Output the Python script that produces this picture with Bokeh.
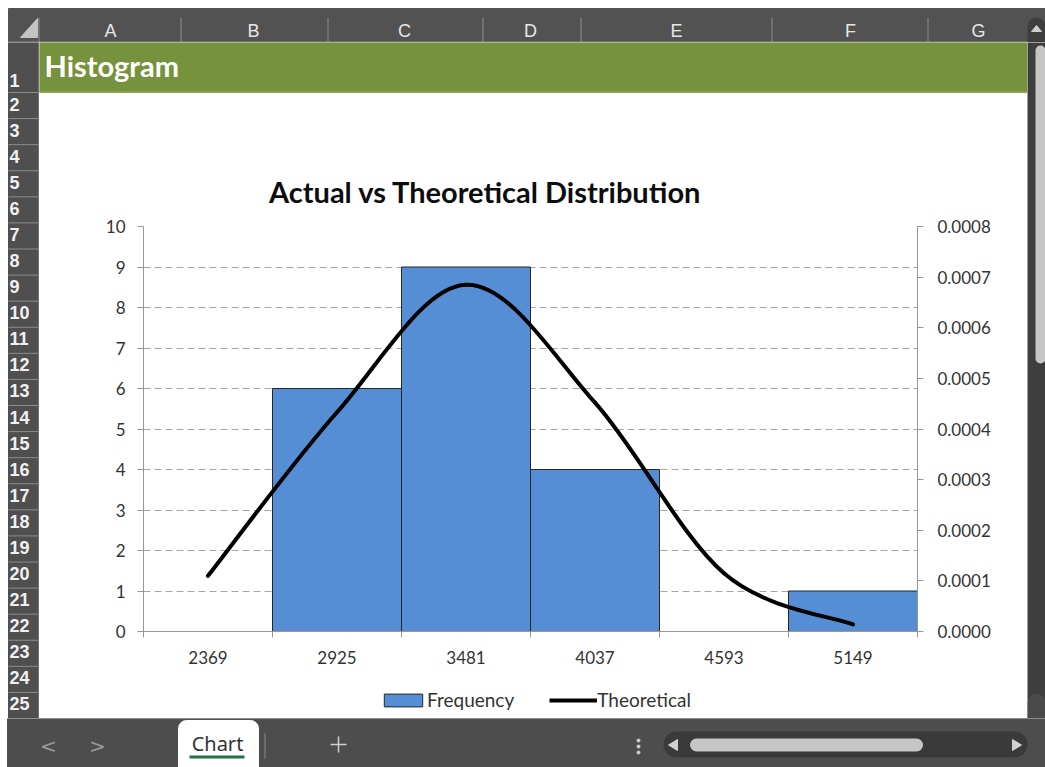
from bokeh.plotting import figure
from bokeh.models import (Range1d, LinearAxis, FixedTicker, NumeralTickFormatter,
                          ColumnDataSource, CDSView, BooleanFilter, Legend, LegendItem)
from bokeh.layouts import column, row
from bokeh.core.properties import value
from bokeh.embed import file_html
from bokeh.resources import INLINE

# ------------------------------------------------------------------ data
categories = ["2369", "2925", "3481", "4037", "4593", "5149"]
frequency = [0, 6, 9, 4, 0, 1]
theoretical = [0.000110, 0.000433, 0.000685, 0.000452, 0.000115, 0.000014]
left_ticks = [0, 1, 2, 3, 4, 5, 6, 7, 8, 9, 10]
right_ticks = [0.0, 0.0001, 0.0002, 0.0003, 0.0004, 0.0005, 0.0006, 0.0007, 0.0008]
series_names = ["Frequency", "Theoretical"]
chart_title = "Actual vs Theoretical Distribution"
sheet_title = "Histogram"
sheet_tab = "Chart"
column_letters = ["A", "B", "C", "D", "E", "F", "G"]
row_numbers = list(range(1, 26))

# ------------------------------------------------------------------ layout / style
PAGE_W = 1045
HEADER_H = 42          # includes an 8px white strip on top
BODY_H = 676
FOOT_H = 49
ROWHDR_W = 39          # includes an 8px white strip on the left
SCROLL_W = 18
CONTENT_W = PAGE_W - ROWHDR_W - SCROLL_W   # 988
TOP_H = 170
LEGEND_H = 36
CHART_H = BODY_H - TOP_H - LEGEND_H        # 470

DARK = "#525252"
ROWDARK = "#4f4f4f"
SEP = "#8c8c8c"
GREEN = "#76923C"
BAR_BLUE = "#558ED5"
BAR_LINE = "#262626"
AXIS_GRAY = "#979797"
GRID_GRAY = "#a6a6a6"
TEXT = "#333333"
SCROLL_DARK = "#3e3e3e"

col_centers = [110, 253, 404, 530, 676, 850, 978]
col_seps = [38.5, 180.5, 327.5, 482.5, 580.5, 771.5, 927.5]


def canvas(w, h, bg):
    p = figure(width=w, height=h, x_range=Range1d(0, w), y_range=Range1d(h, 0),
               min_border=0, toolbar_location=None, output_backend="svg",
               x_axis_location=None, y_axis_location=None, frame_align=False)
    p.grid.visible = False
    p.outline_line_color = None
    p.background_fill_color = bg
    p.border_fill_color = bg
    return p


# ------------------------------------------------------------------ column header strip
hdr = canvas(PAGE_W, HEADER_H, "white")
hdr.quad(left=8, right=PAGE_W, top=8, bottom=HEADER_H, color=DARK)
hdr.segment(x0=[1036], y0=[26], x1=[1036], y1=[HEADER_H + 10], line_color=SCROLL_DARK,
            line_width=18, line_cap="round")
hdr.patch(x=[1036, 1031, 1041], y=[25, 31, 31], color="#cfcfcf")
hdr.segment(x0=col_seps, y0=[17] * len(col_seps), x1=col_seps, y1=[HEADER_H] * len(col_seps),
            line_color=SEP, line_width=1)
hdr.segment(x0=[8], y0=[41.5], x1=[1027], y1=[41.5], line_color=SEP, line_width=1)
hdr.patch(x=[37, 37, 20], y=[18, 37, 37], color="#c4c4c4")
hdr.text(x=col_centers, y=[30] * len(col_centers), text=column_letters,
         text_align="center", text_baseline="middle",
         text_font=value("Liberation Sans"), text_font_size="18px", text_color="#e6e6e6")

# ------------------------------------------------------------------ row header strip
rh = canvas(ROWHDR_W, BODY_H, "white")
rh.quad(left=8, right=ROWHDR_W, top=0, bottom=BODY_H, color=ROWDARK)
row_h = (BODY_H - 50) / 24.0
row_bottoms = [50] + [50 + (j + 1) * row_h for j in range(24)]
label_y = [38] + [50 + j * row_h + 11.5 for j in range(24)]
rh.segment(x0=[8] * 25, y0=row_bottoms, x1=[38] * 25, y1=row_bottoms, line_color=SEP, line_width=1)
rh.segment(x0=[38.5], y0=[0], x1=[38.5], y1=[BODY_H], line_color="#9a9a9a", line_width=1)
rh.text(x=[9] * 25, y=label_y, text=[str(r) for r in row_numbers],
        text_align="left", text_baseline="middle",
        text_font=value("Liberation Sans"), text_font_style="bold",
        text_font_size="18px", text_color="#f0f0f0")

# ------------------------------------------------------------------ green bar + chart title
top = canvas(CONTENT_W, TOP_H, "white")
top.quad(left=0, right=CONTENT_W, top=0, bottom=50, color=GREEN)
top.segment(x0=[0], y0=[49.5], x1=[CONTENT_W], y1=[49.5], line_color="#9bb56a", line_width=1)
top.text(x=[5], y=[23], text=[sheet_title], text_align="left", text_baseline="alphabetic",
         text_font=value("Lato"), text_font_style="bold", text_font_size="29px",
         text_color="white")
top.text(x=[446], y=[149], text=[chart_title], text_align="center", text_baseline="alphabetic",
         text_font=value("Lato"), text_font_style="bold", text_font_size="29px",
         text_color="#0d0d0d")

# ------------------------------------------------------------------ chart
n = len(categories)
xs = [i + 0.5 for i in range(n)]

p = figure(width=CONTENT_W, height=CHART_H, x_range=Range1d(0, n), y_range=Range1d(0, 10),
           toolbar_location=None, output_backend="svg",
           min_border_left=104, min_border_right=110, min_border_top=14, min_border_bottom=51)
p.outline_line_color = None
p.background_fill_color = "white"
p.border_fill_color = "white"
p.extra_y_ranges = {"right": Range1d(0, 0.0008)}

src = ColumnDataSource(dict(x=xs, freq=frequency, theo=theoretical, cat=categories))
view = CDSView(filter=BooleanFilter([f > 0 for f in frequency]))
bars = p.vbar(x="x", top="freq", width=1, source=src, view=view,
              fill_color=BAR_BLUE, line_color=BAR_LINE, line_width=1)

# smoothed line (Catmull-Rom style Bezier segments, like Excel's smoothed line)
bx0, by0, bx1, by1, cx0, cy0, cx1, cy1 = [], [], [], [], [], [], [], []
for i in range(n - 1):
    im1 = max(i - 1, 0)
    ip2 = min(i + 2, n - 1)
    bx0.append(xs[i]); by0.append(theoretical[i])
    bx1.append(xs[i + 1]); by1.append(theoretical[i + 1])
    cx0.append(xs[i] + (xs[i + 1] - xs[im1]) / 6.0)
    cy0.append(theoretical[i] + (theoretical[i + 1] - theoretical[im1]) / 6.0)
    cx1.append(xs[i + 1] - (xs[ip2] - xs[i]) / 6.0)
    cy1.append(theoretical[i + 1] - (theoretical[ip2] - theoretical[i]) / 6.0)
curve = p.bezier(x0=bx0, y0=by0, x1=bx1, y1=by1, cx0=cx0, cy0=cy0, cx1=cx1, cy1=cy1,
                 y_range_name="right", line_color="black", line_width=4, line_cap="round")

# grid
p.xgrid.visible = False
p.ygrid.ticker = FixedTicker(ticks=left_ticks)
p.ygrid.grid_line_color = GRID_GRAY
p.ygrid.grid_line_dash = "7 4"
p.ygrid.grid_line_width = 1

# axes
xa = p.xaxis[0]
xa.ticker = FixedTicker(ticks=xs, minor_ticks=list(range(n + 1)))
xa.major_label_overrides = {x: c for x, c in zip(xs, categories)}
xa.major_tick_line_color = None
xa.major_tick_out = 6
xa.major_tick_in = 0
xa.minor_tick_out = 6
xa.minor_tick_in = 0
xa.minor_tick_line_color = AXIS_GRAY
xa.major_label_standoff = 13

ya = p.yaxis[0]
ya.ticker = FixedTicker(ticks=left_ticks)
ya.major_label_standoff = 12

ra = LinearAxis(y_range_name="right", ticker=FixedTicker(ticks=right_ticks),
                formatter=NumeralTickFormatter(format="0.0000"))
ra.major_label_standoff = 14
p.add_layout(ra, "right")

for ax in (xa, ya, ra):
    ax.axis_line_color = AXIS_GRAY
    ax.axis_line_width = 1
    ax.major_label_text_font = "Lato"
    ax.major_label_text_font_size = "17px"
    ax.major_label_text_color = TEXT
for ax in (ya, ra):
    ax.major_tick_line_color = AXIS_GRAY
    ax.major_tick_out = 6
    ax.major_tick_in = 0
    ax.minor_tick_line_color = None

# ------------------------------------------------------------------ legend strip
# the key renderers share the chart's data but sit outside this strip's visible range,
# so only their legend swatches are drawn
lf = figure(width=CONTENT_W, height=LEGEND_H, x_range=Range1d(0, n), y_range=Range1d(100, 101),
            min_border=0, toolbar_location=None, output_backend="svg",
            x_axis_location=None, y_axis_location=None, frame_align=False)
lf.grid.visible = False
lf.outline_line_color = None
lf.background_fill_color = "white"
lf.border_fill_color = "white"
key_bar = lf.vbar(x="x", top="freq", width=1, source=src,
                  fill_color=BAR_BLUE, line_color=BAR_LINE, line_width=1)
key_line = lf.line(x="x", y="theo", source=src, line_color="black", line_width=4)
legend = Legend(items=[LegendItem(label=series_names[0], renderers=[key_bar]),
                       LegendItem(label=series_names[1], renderers=[key_line])],
                location=(340, 7), orientation="horizontal",
                glyph_width=48, glyph_height=16, label_height=20, label_standoff=0,
                spacing=35, padding=0, margin=0,
                border_line_color=None, background_fill_alpha=0,
                label_text_font="Lato", label_text_font_size="19px",
                label_text_color=TEXT)
lf.add_layout(legend)

# ------------------------------------------------------------------ vertical scrollbar
vs = canvas(SCROLL_W, BODY_H, SCROLL_DARK)
vs.segment(x0=[13], y0=[8], x1=[13], y1=[316], line_color="#c6c6c6", line_width=10, line_cap="round")
vs.segment(x0=[9], y0=[660], x1=[9], y1=[BODY_H + 20], line_color="#4a4a4a", line_width=18,
           line_cap="round")

# ------------------------------------------------------------------ sheet tab strip
ft = canvas(PAGE_W, FOOT_H, "white")
ft.quad(left=7, right=PAGE_W, top=0, bottom=FOOT_H, color="#4d4d4d")
ft.text(x=[48, 97], y=[27, 27], text=["<", ">"], text_align="center", text_baseline="middle",
        text_font=value("DejaVu Sans"), text_font_size="20px", text_color="#9a9a9a")
ft.quad(left=178, right=258, top=2, bottom=FOOT_H + 12, color="white", border_radius=8)
ft.text(x=[217], y=[25], text=[sheet_tab], text_align="center", text_baseline="middle",
        text_font=value("Noto Sans"), text_font_size="20px", text_color="#333333")
ft.segment(x0=[189], y0=[38.5], x1=[244], y1=[38.5], line_color="#217346", line_width=3)
ft.segment(x0=[264.5], y0=[15], x1=[264.5], y1=[40], line_color="#8c8c8c", line_width=1)
ft.segment(x0=[330, 338], y0=[26, 18], x1=[346, 338], y1=[26, 34], line_color="#cfcfcf", line_width=1.5)
ft.scatter(x=[638, 638, 638], y=[22, 28, 34], size=3, color="#cfcfcf")
ft.segment(x0=[676], y0=[26], x1=[1014], y1=[26], line_color="#3a3a3a", line_width=26, line_cap="round")
ft.segment(x0=[696], y0=[26.5], x1=[916], y1=[26.5], line_color="#c6c6c6", line_width=13, line_cap="round")
ft.patch(x=[668, 677, 677], y=[26.5, 21, 32], color="#d0d0d0")
ft.patch(x=[1021, 1012, 1012], y=[26.5, 21, 32], color="#d0d0d0")

# ------------------------------------------------------------------ page
layout = column(hdr, row(rh, column(top, p, lf), vs), ft)
open("out.html", "w").write(file_html(layout, INLINE))
